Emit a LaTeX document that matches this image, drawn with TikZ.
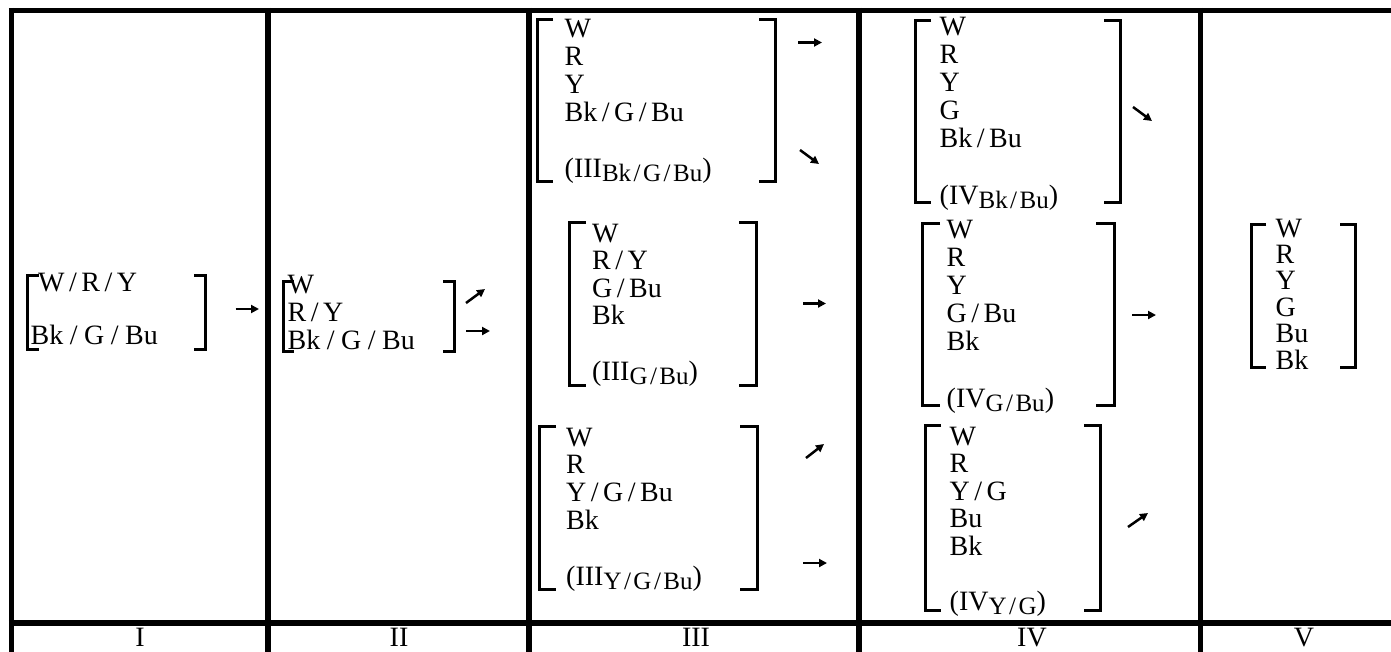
\documentclass[tikz,border=0pt]{standalone}
\usepackage{fontspec}
\setmainfont{Liberation Serif}
\usetikzlibrary{arrows.meta}
\newcommand{\sls}{\hspace{4.5pt}/\hspace{4.5pt}}
\newcommand{\wsl}{\hspace{6.5pt}/\hspace{6.5pt}}
\newcommand{\ssl}{\hspace{2.5pt}/\hspace{2.5pt}}
\newcommand{\subx}[1]{\raisebox{-4pt}{\fontsize{25}{25}\selectfont #1}}
\newcommand{\brpair}[5]{%
  \draw[brk] (#1+#5,#3) -- (#1,#3) -- (#1,#4) -- (#1+#5,#4);
  \draw[brk] (#2-#5,#3) -- (#2,#3) -- (#2,#4) -- (#2-#5,#4);}
\tikzset{
  frame/.style={line width=5.5pt},
  brk/.style={line width=3pt, line join=miter},
  sarrow/.style={line width=2.5pt, -{Triangle[length=8pt,width=8pt]}},
  lbl/.style={inner sep=0pt, anchor=base west, font=\fontsize{28}{28}\selectfont},
  collbl/.style={inner sep=0pt, anchor=base, font=\fontsize{28}{28}\selectfont},
}
\begin{document}
\begin{tikzpicture}[x=1pt,y=-1pt]
\useasboundingbox (0,0) rectangle (1391,651);
% frame
\draw[frame] (8.75,10.5) -- (1395,10.5);
\draw[frame] (8.75,623) -- (1395,623);
\foreach \x in {11.5,268,529,859,1200.5} \draw[frame] (\x,7.75) -- (\x,655);
% column labels
\node[collbl] (lI)   at (140,646)  {I};
\node[collbl] (lII)  at (399,646)  {II};
\node[collbl] (lIII) at (696,646)  {III};
\node[collbl] (lIV)  at (1032,646) {IV};
\node[collbl] (lV)   at (1304,646) {V};
% column I
\node[lbl] (t1a) at (38,291.5) {W\sls R\sls Y};
\node[lbl] (t1b) at (30.5,344.6) {Bk\wsl G\wsl Bu};
\brpair{27.5}{205}{275}{349.5}{11}
% column II
\node[lbl] (t2) at (287.5,293) {\vtop{\baselineskip=28pt
  \hbox{W}\hbox{R\sls Y}\hbox{Bk\wsl G\wsl Bu}}};
\brpair{283}{454}{281.5}{351}{11}
% column III
\node[lbl] (t31) at (564.5,37) {\vtop{\baselineskip=28pt
  \hbox{W}\hbox{R}\hbox{Y}\hbox{Bk\sls G\sls Bu}\hbox{}\hbox{(III\subx{Bk\ssl G\ssl Bu})}}};
\brpair{537}{775}{19.5}{181.7}{16}
\node[lbl] (t32) at (592,242) {\vtop{\baselineskip=27.6pt
  \hbox{W}\hbox{R\sls Y}\hbox{G\sls Bu}\hbox{Bk}\hbox{}\hbox{(III\subx{G\ssl Bu})}}};
\brpair{569}{756}{222.7}{385}{17}
\node[lbl] (t33) at (566,446) {\vtop{\baselineskip=27.8pt
  \hbox{W}\hbox{R}\hbox{Y\sls G\sls Bu}\hbox{Bk}\hbox{}\hbox{(III\subx{Y\ssl G\ssl Bu})}}};
\brpair{539}{757}{426}{589}{17}
% column IV
\node[lbl] (t41) at (939.5,35) {\vtop{\baselineskip=28.2pt
  \hbox{W}\hbox{R}\hbox{Y}\hbox{G}\hbox{Bk\sls Bu}\hbox{}\hbox{(IV\subx{Bk\ssl Bu})}}};
\brpair{915}{1120}{20}{202.7}{16}
\node[lbl] (t42) at (946.5,238) {\vtop{\baselineskip=28.2pt
  \hbox{W}\hbox{R}\hbox{Y}\hbox{G\sls Bu}\hbox{Bk}\hbox{}\hbox{(IV\subx{G\ssl Bu})}}};
\brpair{922}{1114}{223}{405}{18}
\node[lbl] (t43) at (949.5,445) {\vtop{\baselineskip=27.6pt
  \hbox{W}\hbox{R}\hbox{Y\sls G}\hbox{Bu}\hbox{Bk}\hbox{}\hbox{(IV\subx{Y\ssl G})}}};
\brpair{925}{1100}{425}{610}{16}
% column V
\node[lbl] (t5) at (1275.5,237) {\vtop{\baselineskip=26.4pt
  \hbox{W}\hbox{R}\hbox{Y}\hbox{G}\hbox{Bu}\hbox{Bk}}};
\brpair{1251}{1355}{224}{367}{15}
% arrows
\coordinate (a1s) at (235.5,309);  \coordinate (a1e) at (259,309);
\coordinate (a2s) at (466,303);    \coordinate (a2e) at (485,289);
\coordinate (a3s) at (466,331);    \coordinate (a3e) at (490,331);
\coordinate (a4s) at (798,42.5);   \coordinate (a4e) at (822,42.5);
\coordinate (a5s) at (800,150);    \coordinate (a5e) at (819,164);
\coordinate (a6s) at (803,303.5);  \coordinate (a6e) at (826,303.5);
\coordinate (a7s) at (806,458);    \coordinate (a7e) at (824,444);
\coordinate (a8s) at (803,563);    \coordinate (a8e) at (827,563);
\coordinate (a9s) at (1133,107);   \coordinate (a9e) at (1152,121);
\coordinate (a10s) at (1132,315);  \coordinate (a10e) at (1156,315);
\coordinate (a11s) at (1128,527);  \coordinate (a11e) at (1148,513);
\foreach \i in {1,...,11} \draw[sarrow] (a\i s) -- (a\i e);
\end{tikzpicture}
\end{document}
